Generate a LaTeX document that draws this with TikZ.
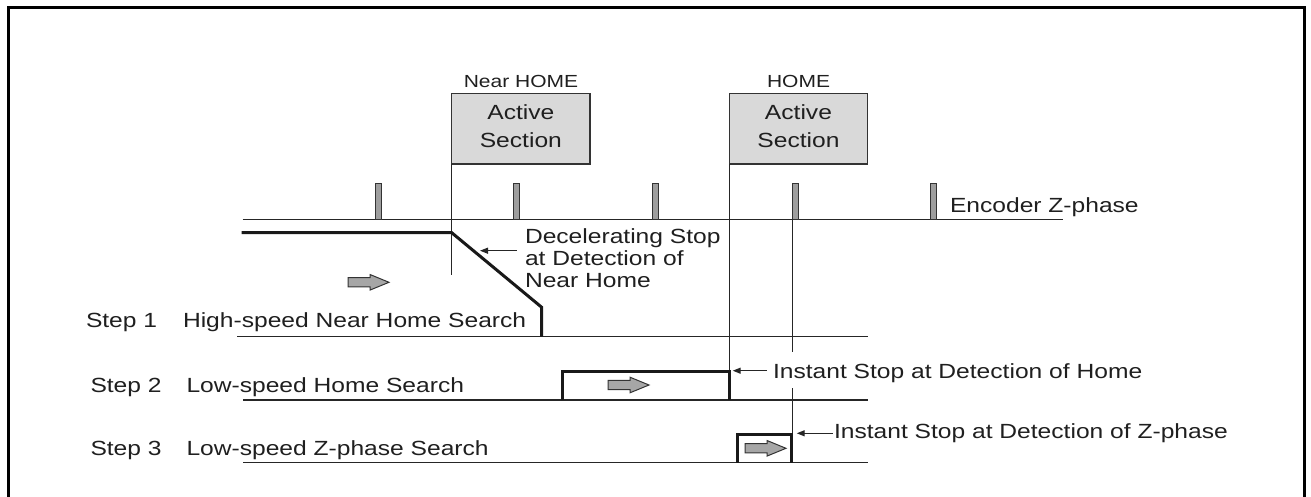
\documentclass[tikz,border=0pt]{standalone}
\usepackage{fontspec}
\setmainfont{Liberation Sans}[FakeStretch=1.2]
\usetikzlibrary{arrows.meta}
\begin{document}
\begin{tikzpicture}[x=1pt,y=-1pt,
  rule/.style={line width=1.3pt, draw=black!85},
  prof/.style={line width=3pt, draw=black!90, line join=miter},
  lbl/.style={inner sep=0pt, outer sep=0pt, anchor=base west, font=\fontsize{20.5}{22}\selectfont, text=black!88},
  hdr/.style={inner sep=0pt, outer sep=0pt, anchor=base, font=\fontsize{17.5}{20}\selectfont, text=black!88},
  ptr/.style={line width=1.3pt, draw=black!85, -{Triangle[length=8pt,width=6pt]}},
  zbar/.style={draw=black!80, fill=black!38, line width=1pt},
  actbox/.style={draw=black!80, fill=black!15, line width=1.5pt, inner sep=0pt, outer sep=0pt, anchor=north west, minimum width=138.3pt, minimum height=70.7pt},
  garrow/.pic={\draw[draw=black!80, fill=black!35, line width=1pt] (0,-4.6) -- (22,-4.6) -- (22,-7.8) -- (41,0) -- (22,7.8) -- (22,4.6) -- (0,4.6) -- cycle;}
]
\useasboundingbox (0,0) rectangle (1311,497);
% frame
\draw[line width=3pt] (8.5,497) -- (8.5,8) -- (1304,8) -- (1304,497);

% active section boxes
\node[hdr] (nh) at (521,88) {Near HOME};
\node[hdr] (hm) at (798.5,88) {HOME};
\node[actbox] (box1) at (451.7,93.3) {};
\node[actbox] (box2) at (729.3,93.3) {};
\node[lbl, anchor=base] (a1) at (box1.center |- 0,120) {Active};
\node[lbl, anchor=base] (b1) at (box1.center |- 0,147.3) {Section};
\node[lbl, anchor=base] (a2) at (box2.center |- 0,120) {Active};
\node[lbl, anchor=base] (b2) at (box2.center |- 0,147.3) {Section};

\coordinate (nhend) at (451.7,275);
\coordinate (hmend) at (729.3,400);
\draw[rule] (box1.south west) -- (nhend);
\draw[rule] (box2.south west) -- (hmend);

% encoder line and Z pulses
\coordinate (encL) at (242.7,219.3);
\coordinate (encR) at (1063.3,219.3);
\draw[rule] (encL) -- (encR);
\foreach \x in {378.3,516.7,655.5,795,933.7}
  \draw[zbar] (\x-3,184) rectangle (\x+3,219.3);
\node[lbl] (enc) at (950,212.7) {Encoder Z-phase};

% Z-phase line
\coordinate (z0) at (792.5,219.3);
\coordinate (z1) at (792.5,352);
\coordinate (z2) at (792.5,388);
\coordinate (z3) at (792.5,462.7);
\draw[rule] (z0) -- (z1);
\draw[rule] (z2) -- (z3);

% Step 1
\coordinate (s1L) at (237.3,336.7);
\coordinate (s1R) at (868,336.7);
\draw[rule] (s1L) -- (s1R);
\draw[prof] (241.7,232.7) -- (451.7,232.7) -- (541.7,307.3) -- (541.7,336.7);
\pic at (348,282.3) {garrow};
\node[lbl] (s1) at (86,327.3) {Step 1};
\node[lbl] (d1) at (183,327.3) {High-speed Near Home Search};
\node[lbl] (dec1) at (525,243.3) {Decelerating Stop};
\node[lbl] (dec2) at (525,265) {at Detection of};
\node[lbl] (dec3) at (525,287.3) {Near Home};
\coordinate (p1s) at (516.7,250.7);
\coordinate (p1e) at (480,250.7);
\draw[ptr] (p1s) -- (p1e);

% Step 2
\coordinate (s2L) at (243,400);
\coordinate (s2R) at (868,400);
\draw[rule] (s2L) -- (s2R);
\draw[prof] (562.7,400) -- (562.7,371.7) -- (729.3,371.7) -- (729.3,400);
\pic at (608,385) {garrow};
\node[lbl] (s2) at (90.5,392.7) {Step 2};
\node[lbl] (d2) at (186.5,392.7) {Low-speed Home Search};
\node[lbl] (ih) at (773,378) {Instant Stop at Detection of Home};
\coordinate (p2s) at (766.7,370.7);
\coordinate (p2e) at (732.7,370.7);
\draw[ptr] (p2s) -- (p2e);

% Step 3
\coordinate (s3L) at (243,462.7);
\coordinate (s3R) at (868,462.7);
\draw[rule] (s3L) -- (s3R);
\draw[prof] (737.7,462.7) -- (737.7,434) -- (791,434) -- (791,462.7);
\pic at (745,448.3) {garrow};
\node[lbl] (s3) at (90.5,455) {Step 3};
\node[lbl] (d3) at (186.5,455) {Low-speed Z-phase Search};
\node[lbl] (iz) at (834,438) {Instant Stop at Detection of Z-phase};
\coordinate (p3s) at (832.7,433.3);
\coordinate (p3e) at (796.7,433.3);
\draw[ptr] (p3s) -- (p3e);
\end{tikzpicture}
\end{document}
